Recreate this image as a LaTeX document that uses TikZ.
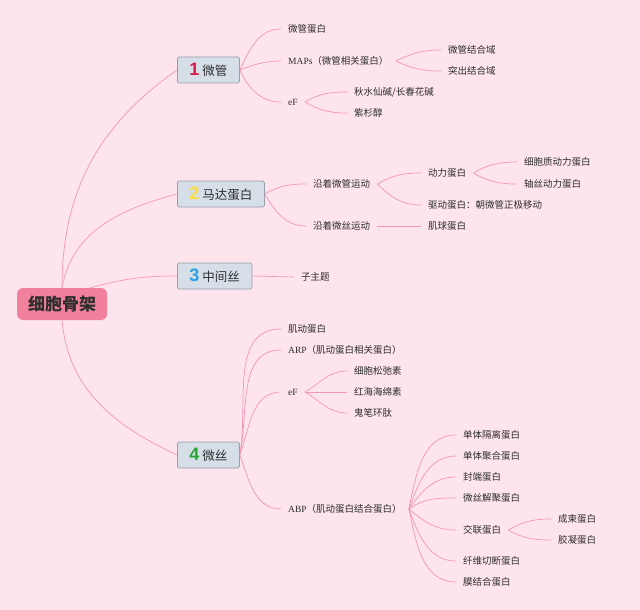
\documentclass[tikz,border=0pt]{standalone}
\usepackage{fontspec}
\setmainfont{Noto Sans CJK SC}
\newfontfamily\lat{Liberation Serif}
\newfontfamily\numfont{Liberation Sans}
\usepackage{tikz}
\usetikzlibrary{calc}
\definecolor{bgpink}{RGB}{253,228,237}
\definecolor{linkpink}{RGB}{244,150,182}
\definecolor{rootpink}{RGB}{241,128,156}
\definecolor{boxgray}{RGB}{214,223,231}
\definecolor{boxline}{RGB}{150,158,168}
\definecolor{textdark}{RGB}{45,45,45}
\definecolor{red1}{RGB}{214,30,70}
\definecolor{yellow1}{RGB}{250,222,60}
\definecolor{blue1}{RGB}{40,160,225}
\definecolor{green1}{RGB}{40,165,50}
\tikzset{
  rootbox/.style={fill=rootpink,draw=none,rounded corners=6pt,minimum width=90pt,minimum height=32pt,font=\fontsize{17}{17}\selectfont\bfseries,text=textdark},
  topicbox/.style={fill=boxgray,draw=boxline,line width=0.8pt,rounded corners=1.5pt,anchor=west,minimum height=26pt,inner xsep=12pt,font=\fontsize{12.5}{13}\selectfont,text=textdark},
  leaf/.style={anchor=west,inner xsep=7pt,inner ysep=1pt,font=\fontsize{9.5}{10}\selectfont,text=textdark},
  link/.style={draw=linkpink,line width=0.7pt}
}
\newcommand{\num}[2]{{\numfont\bfseries\fontsize{18}{18}\selectfont\color{#1}#2}\hspace{3pt}}

\begin{document}
\begin{tikzpicture}[x=1pt,y=-1pt]

	%%% Background
	\fill[bgpink] (0,0) rectangle (640,610);
	\useasboundingbox (0,0) rectangle (640,610);

	%%% Root and main topics
	\node[rootbox] (root) at (62,304) {细胞骨架};
	\node[topicbox] (mt) at (177,70) {\num{red1}{1}微管};
	\node[topicbox] (mp) at (177,194) {\num{yellow1}{2}马达蛋白};
	\node[topicbox] (ifil) at (177,276) {\num{blue1}{3}中间丝};
	\node[topicbox] (mf) at (177,455) {\num{green1}{4}微丝};

	\draw[link] (root.north) to[out=90,in=215] (mt.west);
	\draw[link] (root.north) to[out=80,in=195] (mp.west);
	\draw[link] (root.30) to[out=15,in=180] (ifil.west);
	\draw[link] (root.south) to[out=-85,in=155] (mf.west);

	%%% 1 Microtubules
	\node[leaf] (tub) at (281,29) {微管蛋白};
	\node[leaf] (maps) at (281,61) {{\lat MAPs}（微管相关蛋白）};
	\node[leaf] (ef1) at (281,102) {\lat eF};
	\node[leaf] (mbd) at (441,50) {微管结合域};
	\node[leaf] (pbd) at (441,71) {突出结合域};
	\node[leaf] (colch) at (347,92) {秋水仙碱/长春花碱};
	\node[leaf] (taxol) at (347,113) {紫杉醇};

	\draw[link] (mt.east) to[out=65,in=180] (tub.west);
	\draw[link] (mt.east) to[out=20,in=180] (maps.west);
	\draw[link] (mt.east) to[out=-65,in=180] (ef1.west);
	\draw[link] (maps.east) to[out=25,in=180] (mbd.west);
	\draw[link] (maps.east) to[out=-25,in=180] (pbd.west);
	\draw[link] (ef1.east) to[out=30,in=180] (colch.west);
	\draw[link] (ef1.east) to[out=-30,in=180] (taxol.west);

	%%% 2 Motor proteins
	\node[leaf] (alongmt) at (306,184) {沿着微管运动};
	\node[leaf] (alongmf) at (306,226) {沿着微丝运动};
	\node[leaf] (dynein) at (421,173) {动力蛋白};
	\node[leaf] (kinesin) at (421,205) {驱动蛋白：朝微管正极移动};
	\node[leaf] (myosin) at (421,226) {肌球蛋白};
	\node[leaf] (cyto) at (517,162) {细胞质动力蛋白};
	\node[leaf] (axon) at (517,184) {轴丝动力蛋白};

	\draw[link] (mp.east) to[out=30,in=180] (alongmt.west);
	\draw[link] (mp.east) to[out=-60,in=180] (alongmf.west);
	\draw[link] (alongmt.east) to[out=30,in=180] (dynein.west);
	\draw[link] (alongmt.east) to[out=-45,in=180] (kinesin.west);
	\draw[link] (alongmf.east) -- (myosin.west);
	\draw[link] (dynein.east) to[out=30,in=180] (cyto.west);
	\draw[link] (dynein.east) to[out=-30,in=180] (axon.west);

	%%% 3 Intermediate filaments
	\node[leaf] (sub) at (294,277) {子主题};
	\draw[link] (ifil.east) -- (sub.west);

	%%% 4 Microfilaments
	\node[leaf] (actin) at (281,329) {肌动蛋白};
	\node[leaf] (arp) at (281,350) {{\lat ARP}（肌动蛋白相关蛋白）};
	\node[leaf] (ef4) at (281,392) {\lat eF};
	\node[leaf] (abp) at (281,509) {{\lat ABP}（肌动蛋白结合蛋白）};
	\node[leaf] (cytoch) at (347,371) {细胞松弛素};
	\node[leaf] (latru) at (347,392) {红海海绵素};
	\node[leaf] (phallo) at (347,413) {鬼笔环肽};

	\draw[link] (mf.east) to[out=80,in=180] (actin.west);
	\draw[link] (mf.east) to[out=78,in=180] (arp.west);
	\draw[link] (mf.east) to[out=70,in=180] (ef4.west);
	\draw[link] (mf.east) to[out=-70,in=180] (abp.west);
	\draw[link] (ef4.east) to[out=30,in=180] (cytoch.west);
	\draw[link] (ef4.east) -- (latru.west);
	\draw[link] (ef4.east) to[out=-30,in=180] (phallo.west);

	%%% ABP groups
	\node[leaf] (seq) at (456,435) {单体隔离蛋白};
	\node[leaf] (poly) at (456,456) {单体聚合蛋白};
	\node[leaf] (cap) at (456,477) {封端蛋白};
	\node[leaf] (depoly) at (456,498) {微丝解聚蛋白};
	\node[leaf] (cross) at (456,530) {交联蛋白};
	\node[leaf] (sever) at (456,561) {纤维切断蛋白};
	\node[leaf] (memb) at (456,582) {膜结合蛋白};
	\node[leaf] (bundle) at (551,519) {成束蛋白};
	\node[leaf] (gel) at (551,540) {胶凝蛋白};

	\draw[link] (abp.east) to[out=78,in=180] (seq.west);
	\draw[link] (abp.east) to[out=70,in=180] (poly.west);
	\draw[link] (abp.east) to[out=55,in=180] (cap.west);
	\draw[link] (abp.east) to[out=35,in=180] (depoly.west);
	\draw[link] (abp.east) to[out=-40,in=180] (cross.west);
	\draw[link] (abp.east) to[out=-70,in=180] (sever.west);
	\draw[link] (abp.east) to[out=-78,in=180] (memb.west);
	\draw[link] (cross.east) to[out=30,in=180] (bundle.west);
	\draw[link] (cross.east) to[out=-30,in=180] (gel.west);

\end{tikzpicture}
\end{document}
